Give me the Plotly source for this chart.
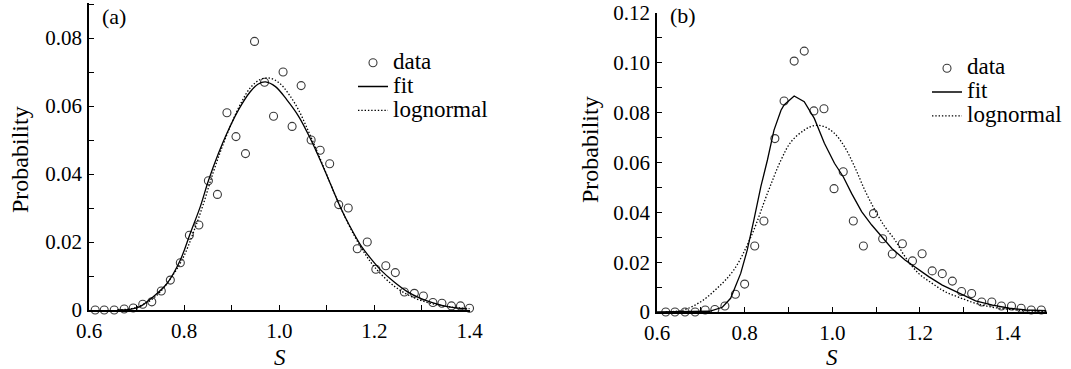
import plotly.graph_objects as go

# ---------------- Panel (a) data ----------------
a_s = [0.613, 0.632, 0.653, 0.674, 0.693, 0.713, 0.732, 0.752, 0.771, 0.792, 0.811,
       0.831, 0.851, 0.870, 0.890, 0.909, 0.929, 0.948, 0.969, 0.988, 1.008, 1.027,
       1.046, 1.067, 1.086, 1.106, 1.125, 1.145, 1.164, 1.185, 1.203, 1.224, 1.244,
       1.263, 1.284, 1.303, 1.323, 1.342, 1.362, 1.381, 1.400]
a_p = [0, 0, 0, 0.0003, 0.0006, 0.0017, 0.0024, 0.0056, 0.0088, 0.0139, 0.022,
       0.025, 0.038, 0.034, 0.058, 0.051, 0.046, 0.079, 0.067, 0.057, 0.070, 0.054,
       0.066, 0.050, 0.047, 0.043, 0.031, 0.030, 0.018, 0.020, 0.012, 0.013, 0.011,
       0.0053, 0.0049, 0.0041, 0.0022, 0.002, 0.0012, 0.0012, 0.0005]

a_fit_s = [0.66, 0.686, 0.707, 0.735, 0.764, 0.792, 0.813, 0.834, 0.851, 0.872, 0.890,
           0.914, 0.939, 0.955, 0.971, 0.992, 1.016, 1.041, 1.065, 1.086, 1.107, 1.128,
           1.149, 1.171, 1.192, 1.213, 1.241, 1.269, 1.297, 1.325, 1.353, 1.395]
a_fit_p = [0, 0.0002, 0.001, 0.0039, 0.0078, 0.0147, 0.0226, 0.0304, 0.038, 0.046, 0.052,
           0.0588, 0.0642, 0.0664, 0.0671, 0.0657, 0.0618, 0.0569, 0.0505, 0.0441, 0.0373, 0.0304,
           0.0245, 0.0191, 0.0152, 0.0118, 0.0083, 0.0054, 0.0034, 0.002, 0.001, 0.0003]

a_ln_s = [0.66, 0.70, 0.74, 0.78, 0.80, 0.82, 0.84, 0.86, 0.88, 0.90, 0.92, 0.94, 0.96,
          0.98, 1.00, 1.02, 1.04, 1.06, 1.08, 1.10, 1.12, 1.14, 1.16, 1.18, 1.20, 1.24,
          1.28, 1.32, 1.36, 1.40]
a_ln_p = [0, 0.0008, 0.0040, 0.0110, 0.0160, 0.0230, 0.0310, 0.0400, 0.0480, 0.0550,
          0.0610, 0.0655, 0.0678, 0.0682, 0.0668, 0.0635, 0.0590, 0.0530, 0.0465, 0.0397,
          0.0330, 0.0268, 0.0213, 0.0166, 0.0127, 0.0072, 0.0038, 0.0019, 0.0009, 0.0004]

# ---------------- Panel (b) data ----------------
b_s = [0.620, 0.641, 0.664, 0.687, 0.710, 0.732, 0.755, 0.779, 0.800, 0.823, 0.844,
       0.869, 0.890, 0.913, 0.936, 0.958, 0.981, 1.004, 1.025, 1.048, 1.071, 1.094,
       1.115, 1.137, 1.160, 1.183, 1.205, 1.228, 1.251, 1.274, 1.295, 1.318, 1.341,
       1.364, 1.386, 1.409, 1.431, 1.454, 1.477]
b_p = [0, 0, 0, 0, 0.0008, 0.001, 0.0024, 0.0071, 0.0112, 0.0265, 0.0365,
       0.0696, 0.0847, 0.1007, 0.1047, 0.0807, 0.0816, 0.0495, 0.0563, 0.0365, 0.0265, 0.0395,
       0.0294, 0.0233, 0.0274, 0.0205, 0.0234, 0.0165, 0.0154, 0.0124, 0.0082, 0.0074, 0.004,
       0.004, 0.0024, 0.0024, 0.0015, 0.0008, 0.0008]

b_fit_s = [0.60, 0.72, 0.749, 0.768, 0.791, 0.806, 0.821, 0.837, 0.852, 0.867, 0.883,
           0.890, 0.913, 0.936, 0.959, 0.982, 1.005, 1.025, 1.044, 1.067, 1.090, 1.113,
           1.136, 1.166, 1.197, 1.220, 1.251, 1.289, 1.327, 1.366, 1.404, 1.442, 1.488]
b_fit_p = [0, 0.0003, 0.0019, 0.0055, 0.0155, 0.0249, 0.0369, 0.0503, 0.061, 0.073, 0.081,
           0.0831, 0.0867, 0.0844, 0.0777, 0.0677, 0.0597, 0.0543, 0.0476, 0.0403, 0.0349, 0.0302,
           0.0255, 0.0209, 0.0171, 0.0142, 0.0108, 0.0075, 0.0045, 0.0028, 0.0015, 0.0008, 0.0005]

b_ln_s = [0.62, 0.66, 0.699, 0.737, 0.775, 0.814, 0.852, 0.883, 0.906, 0.936, 0.959,
          0.982, 1.005, 1.028, 1.051, 1.074, 1.097, 1.12, 1.143, 1.166, 1.197, 1.228,
          1.258, 1.289, 1.327, 1.366, 1.404, 1.442, 1.49]
b_ln_p = [0, 0.0008, 0.004, 0.0095, 0.0168, 0.030, 0.0476, 0.061, 0.0683, 0.073, 0.0748,
          0.0744, 0.0717, 0.0663, 0.0583, 0.049, 0.041, 0.0342, 0.0289, 0.0222, 0.0155, 0.0115,
          0.0081, 0.0059, 0.0035, 0.0019, 0.0011, 0.0005, 0.0002]

# ---------------- Tick labels ----------------
x_tickvals = [0.6, 0.7, 0.8, 0.9, 1.0, 1.1, 1.2, 1.3, 1.4]
x_ticktext = ["0.6", "", "0.8", "", "1.0", "", "1.2", "", "1.4"]
ya_tickvals = [0, 0.01, 0.02, 0.03, 0.04, 0.05, 0.06, 0.07, 0.08, 0.09]
ya_ticktext = ["0", "", "0.02", "", "0.04", "", "0.06", "", "0.08", ""]
yb_tickvals = [0, 0.01, 0.02, 0.03, 0.04, 0.05, 0.06, 0.07, 0.08, 0.09, 0.10, 0.11, 0.12]
yb_ticktext = ["0", "", "0.02", "", "0.04", "", "0.06", "", "0.08", "", "0.10", "", "0.12"]

names = ["data", "fit", "lognormal"]

W, H = 1071, 369
SERIF = '"Liberation Serif", "DejaVu Serif", serif'
LEG_TXT = 23


def fx(p):
    return p / W


def fy(p):
    return 1 - p / H


def nm(t):
    return "<span style='font-size:%dpx'>%s</span>" % (LEG_TXT, t)


fig = go.Figure()

marker = dict(symbol="circle-open", size=8, color="#3a3a3a", line=dict(width=1.1))
DOT = "1.4px,1.9px"

for (xs, ys, fs, fp, ls, lp, xa, ya, leg) in [
    (a_s, a_p, a_fit_s, a_fit_p, a_ln_s, a_ln_p, "x", "y", "legend"),
    (b_s, b_p, b_fit_s, b_fit_p, b_ln_s, b_ln_p, "x2", "y2", "legend2"),
]:
    fig.add_trace(go.Scatter(x=xs, y=ys, mode="markers", marker=marker, name=nm(names[0]),
                             xaxis=xa, yaxis=ya, legend=leg, cliponaxis=False))
    fig.add_trace(go.Scatter(x=fs, y=fp, mode="lines",
                             line=dict(color="black", width=1.3,
                                       shape="spline" if xa == "x" else "linear"),
                             name=nm(names[1]), xaxis=xa, yaxis=ya, legend=leg))
    fig.add_trace(go.Scatter(x=ls, y=lp, mode="lines",
                             line=dict(color="black", width=1.3, dash=DOT, shape="spline"),
                             name=nm(names[2]), xaxis=xa, yaxis=ya, legend=leg))

axis_common = dict(showline=True, linecolor="black", linewidth=1.5, ticks="inside",
                   ticklen=5, tickwidth=1.2, tickcolor="black", showgrid=False,
                   zeroline=False, tickfont=dict(family=SERIF, size=21, color="black"),
                   automargin=False, ticklabeloverflow="allow")

fig.update_layout(
    width=W, height=H,
    margin=dict(l=0, r=0, t=0, b=0),
    paper_bgcolor="white", plot_bgcolor="white",
    font=dict(family=SERIF, color="black"),
    xaxis=dict(domain=[fx(89), fx(470)], range=[0.6, 1.401], anchor="y",
               tickvals=x_tickvals, ticktext=x_ticktext, ticklabelstandoff=1, **axis_common),
    yaxis=dict(domain=[fy(310), fy(3)], range=[0, 0.0903], anchor="x",
               tickvals=ya_tickvals, ticktext=ya_ticktext, ticklabelstandoff=1, **axis_common),
    xaxis2=dict(domain=[fx(657), fx(1047)], range=[0.6, 1.49], anchor="y2",
                tickvals=x_tickvals, ticktext=x_ticktext, ticklabelstandoff=1, **axis_common),
    yaxis2=dict(domain=[fy(312), fy(13)], range=[0, 0.12], anchor="x2",
                tickvals=yb_tickvals, ticktext=yb_ticktext, ticklabelstandoff=1, **axis_common),
    legend=dict(x=fx(353), y=fy(45.8), xanchor="left", yanchor="top",
                bgcolor="rgba(0,0,0,0)", borderwidth=0,
                font=dict(family=SERIF, size=16, color="black")),
    legend2=dict(x=fx(927), y=fy(51.3), xanchor="left", yanchor="top",
                 bgcolor="rgba(0,0,0,0)", borderwidth=0,
                 font=dict(family=SERIF, size=16, color="black")),
    showlegend=True,
)

ann = [
    dict(text="Probability", x=20, y=160, textangle=-90, size=24, h=None),
    dict(text="Probability", x=590, y=150, textangle=-90, size=24, h=None),
    dict(text="<i>S</i>", x=280, y=357, textangle=0, size=23, h=18),
    dict(text="<i>S</i>", x=832, y=357, textangle=0, size=23, h=18),
]
for a in ann:
    fig.add_annotation(text=a["text"], x=fx(a["x"]), y=fy(a["y"]), xref="paper", yref="paper",
                       textangle=a["textangle"], showarrow=False, xanchor="center",
                       yanchor="middle", height=a["h"],
                       font=dict(family=SERIF, size=a["size"], color="black"))

for t, x, y in [("(a)", 100, 16), ("(b)", 668, 15)]:
    fig.add_annotation(text=t, x=fx(x), y=fy(y), xref="paper", yref="paper",
                       showarrow=False, xanchor="left", yanchor="middle",
                       font=dict(family=SERIF, size=22, color="black"))

# Remove the browser's default 8px body margin so the figure fills the window exactly.
fig.write_html("out.html", config={"displayModeBar": False},
               post_script="document.body.style.margin='0px';")
